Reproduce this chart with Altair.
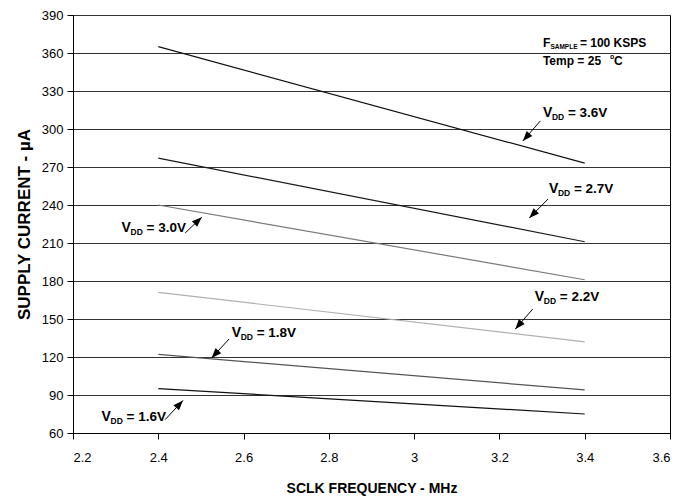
import math
import altair as alt
import pandas as pd

# ---- data ----
freq = [2.4, 3.4]
series = ["3.6V", "2.7V", "3.0V", "2.2V", "1.8V", "1.6V"]
i_36 = [365, 273]
i_27 = [277, 211]
i_30 = [240, 181]
i_22 = [171, 132]
i_18 = [122, 94]
i_16 = [95, 75]
line_colors = ["#111111", "#1a1a1a", "#7a7a7a", "#b0b0b0", "#555555", "#111111"]

x_ticks = [2.2, 2.4, 2.6, 2.8, 3.0, 3.2, 3.4, 3.6]
y_ticks = [60, 90, 120, 150, 180, 210, 240, 270, 300, 330, 360, 390]

# label anchors (data units) and arrow tails/heads (data units)
lab_x = [3.302, 3.316, 2.314, 3.283, 2.572, 2.267]
lab_y = [309.5, 249.5, 218.9, 164.4, 136.0, 69.5]
tail_x = [3.296, 3.314, 2.463, 3.278, 2.566, 2.416]
tail_y = [306.4, 244.7, 217.9, 157.8, 134.2, 70.5]
head_x = [3.255, 3.270, 2.502, 3.237, 2.525, 2.458]
head_y = [290.6, 229.7, 230.4, 142.0, 119.2, 85.7]

W, H = 597, 418
XMIN, XMAX, YMIN, YMAX = 2.2, 3.6, 60, 390

FONT = "Liberation Sans"

rows = []
for s, vals in zip(series, [i_36, i_27, i_30, i_22, i_18, i_16]):
    for f, v in zip(freq, vals):
        rows.append({"series": s, "freq": f, "current": v})
df = pd.DataFrame(rows)

ang = []
for tx, ty, hx, hy in zip(tail_x, tail_y, head_x, head_y):
    dxp = (hx - tx) * W / (XMAX - XMIN)
    dyp = -(hy - ty) * H / (YMAX - YMIN)
    ang.append(math.degrees(math.atan2(dxp, -dyp)) % 360)

ann = pd.DataFrame({
    "lx": lab_x, "ly": lab_y, "rest": ["= " + s for s in series],
    "tx": tail_x, "ty": tail_y, "hx": head_x, "hy": head_y, "ang": ang,
})

xs = alt.Scale(domain=[XMIN, XMAX], nice=False, zero=False)
ys = alt.Scale(domain=[YMIN, YMAX], nice=False, zero=False)
xaxis = alt.Axis(values=x_ticks, format="~g", grid=False, title="SCLK FREQUENCY -  MHz",
                 tickSize=6, labelPadding=12, titlePadding=17, labelOverlap=False)
yaxis = alt.Axis(values=y_ticks, grid=True, title="SUPPLY CURRENT -   µA",
                 tickSize=6, labelPadding=4, titlePadding=8, labelOverlap=False)


def X(f):
    return alt.X(f, scale=xs, axis=xaxis)


def Y(f):
    return alt.Y(f, scale=ys, axis=yaxis)


lines = alt.Chart(df).mark_line(strokeWidth=1.2).encode(
    x=X("freq:Q"), y=Y("current:Q"),
    color=alt.Color("series:N", scale=alt.Scale(domain=series, range=line_colors), legend=None),
    detail="series:N",
)

abase = alt.Chart(ann)
txt_v = abase.mark_text(align="left", baseline="alphabetic", font=FONT, fontSize=14,
                        fontWeight="bold", color="black").encode(
    x=X("lx:Q"), y=Y("ly:Q"), text=alt.value("V"))
txt_dd = abase.mark_text(align="left", baseline="alphabetic", font=FONT, fontSize=8.5,
                         fontWeight="bold", color="black", dx=9, dy=3).encode(
    x=X("lx:Q"), y=Y("ly:Q"), text=alt.value("DD"))
txt_rest = abase.mark_text(align="left", baseline="alphabetic", font=FONT, fontSize=13.5,
                           fontWeight="bold", color="black", dx=25).encode(
    x=X("lx:Q"), y=Y("ly:Q"), text="rest:N")

shaft = abase.mark_rule(color="black", strokeWidth=1).encode(
    x=X("tx:Q"), y=Y("ty:Q"), x2="hx:Q", y2="hy:Q")
heads = abase.mark_point(shape="M0,0L0.38,1L-0.38,1Z", filled=True, size=400,
                         color="black", opacity=1).encode(
    x=X("hx:Q"), y=Y("hy:Q"), angle=alt.Angle("ang:Q", scale=None))

# condition notes
note = pd.DataFrame({"x": [3.302], "y1": [364.7], "y2": [350.5]})
nbase = alt.Chart(note)
n_f = nbase.mark_text(align="left", baseline="alphabetic", font=FONT, fontSize=12,
                      fontWeight="bold", color="black").encode(
    x=X("x:Q"), y=Y("y1:Q"), text=alt.value("F"))
n_s = nbase.mark_text(align="left", baseline="alphabetic", font=FONT, fontSize=6.5,
                      fontWeight="bold", color="black", dx=7.5, dy=2).encode(
    x=X("x:Q"), y=Y("y1:Q"), text=alt.value("SAMPLE"))
n_r = nbase.mark_text(align="left", baseline="alphabetic", font=FONT, fontSize=12,
                      fontWeight="bold", color="black", dx=37).encode(
    x=X("x:Q"), y=Y("y1:Q"), text=alt.value("= 100 KSPS"))
n_t = nbase.mark_text(align="left", baseline="alphabetic", font=FONT, fontSize=12,
                      fontWeight="bold", color="black").encode(
    x=X("x:Q"), y=Y("y2:Q"), text=alt.value("Temp =  25"))
n_o = nbase.mark_text(align="left", baseline="alphabetic", font=FONT, fontSize=7,
                      fontWeight="bold", color="black", dx=67, dy=-6).encode(
    x=X("x:Q"), y=Y("y2:Q"), text=alt.value("o"))
n_c = nbase.mark_text(align="left", baseline="alphabetic", font=FONT, fontSize=12,
                      fontWeight="bold", color="black", dx=71).encode(
    x=X("x:Q"), y=Y("y2:Q"), text=alt.value("C"))

chart = alt.layer(lines, shaft, heads, txt_v, txt_dd, txt_rest,
                  n_f, n_s, n_r, n_t, n_o, n_c).properties(
    width=W, height=H,
    autosize=alt.AutoSizeParams(type="none"),
    padding={"left": 65, "top": 7, "right": 10, "bottom": 66},
).configure_view(stroke="black", strokeWidth=1).configure_axis(
    domainColor="black", tickColor="black", gridColor="#333333", gridWidth=1,
    labelFont=FONT, labelFontSize=13, labelColor="black",
    titleFont=FONT, titleFontSize=14, titleFontWeight="bold", titleColor="black",
).configure_axisY(titleFontSize=17)

chart.save("out.html", embed_options={"renderer": "svg", "actions": False})
